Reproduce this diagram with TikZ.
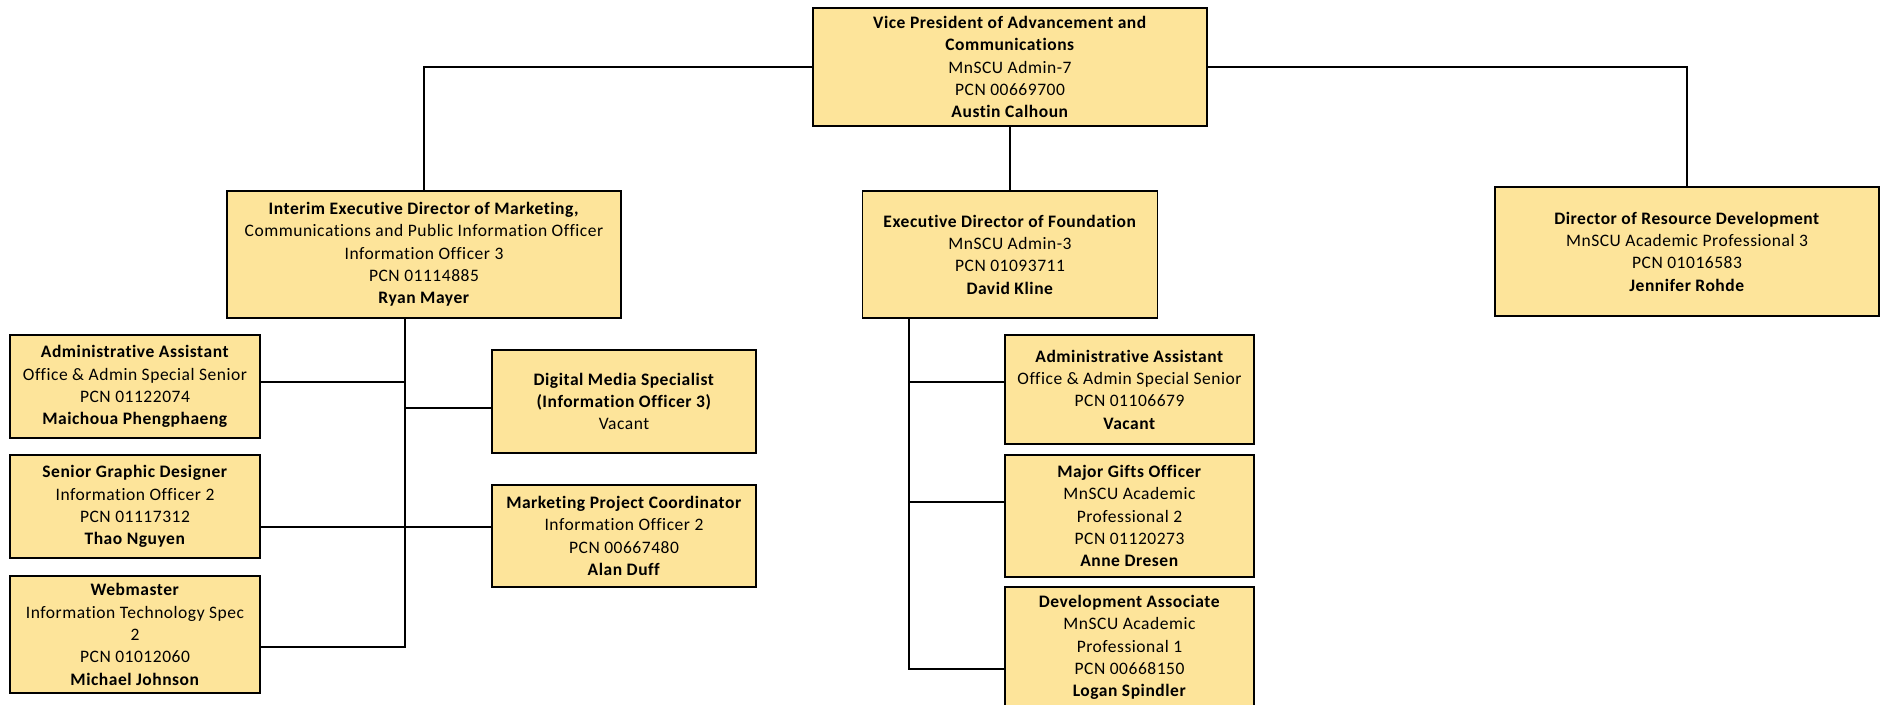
\documentclass[tikz,border=0pt]{standalone}
\usepackage{fontspec}
\setmainfont{Carlito}[LetterSpace=3.0, Ligatures=NoCommon]
\begin{document}
\begin{tikzpicture}[x=1pt,y=-1pt,
  box/.style={draw=black, line width=1.5pt, fill=boxfill, rectangle, inner sep=0pt,
    align=center, font=\fontsize{17.5}{22.3}\selectfont},
  link/.style={draw=black, line width=1.4pt}]
\definecolor{boxfill}{RGB}{253,228,154}
\useasboundingbox (0,0) rectangle (1887,704);
\clip (0,0) rectangle (1887,704);

% top level
\node[box, minimum width=394pt, minimum height=118pt] (vp) at (1010,67)
  {\textbf{Vice President of Advancement and}\\ \textbf{Communications}\\ MnSCU Admin-7\\ PCN 00669700\\ \textbf{Austin Calhoun}};

% second level
\node[box, minimum width=394pt, minimum height=127pt] (mkt) at (424,254.5)
  {\textbf{Interim Executive Director of Marketing,}\\ Communications and Public Information Officer\\ Information Officer 3\\ PCN 01114885\\ \textbf{Ryan Mayer}};
\node[box, minimum width=295pt, minimum height=127pt] (fnd) at (1010,254.5)
  {\textbf{Executive Director of Foundation}\\ MnSCU Admin-3\\ PCN 01093711\\ \textbf{David Kline}};
\node[box, minimum width=384pt, minimum height=129pt] (res) at (1687,251.5)
  {\textbf{Director of Resource Development}\\ MnSCU Academic Professional 3\\ PCN 01016583\\ \textbf{Jennifer Rohde}};

% marketing staff
\node[box, minimum width=250pt, minimum height=103pt] (aa1) at (135,386.5)
  {\textbf{Administrative Assistant}\\ Office \& Admin Special Senior\\ PCN 01122074\\ \textbf{Maichoua Phengphaeng}};
\node[box, minimum width=250pt, minimum height=103pt] (sgd) at (135,506.5)
  {\textbf{Senior Graphic Designer}\\ Information Officer 2\\ PCN 01117312\\ \textbf{Thao Nguyen}};
\node[box, minimum width=250pt, minimum height=117pt] (web) at (135,634.5)
  {\textbf{Webmaster}\\ Information Technology Spec\\ 2\\ PCN 01012060\\ \textbf{Michael Johnson}};
\node[box, minimum width=264pt, minimum height=103pt] (dms) at (624,401.5)
  {\textbf{Digital Media Specialist}\\ \textbf{(Information Officer 3)}\\ Vacant};
\node[box, minimum width=264pt, minimum height=102pt] (mpc) at (624,536)
  {\textbf{Marketing Project Coordinator}\\ Information Officer 2\\ PCN 00667480\\ \textbf{Alan Duff}};

% foundation staff
\node[box, minimum width=249pt, minimum height=109pt] (aa2) at (1129.5,389.5)
  {\textbf{Administrative Assistant}\\ Office \& Admin Special Senior\\ PCN 01106679\\ \textbf{Vacant}};
\node[box, minimum width=249pt, minimum height=122pt] (mgo) at (1129.5,516)
  {\textbf{Major Gifts Officer}\\ MnSCU Academic\\ Professional 2\\ PCN 01120273\\ \textbf{Anne Dresen}};
\node[box, minimum width=249pt, minimum height=121pt] (dev) at (1129.5,647.5)
  {\textbf{Development Associate}\\ MnSCU Academic\\ Professional 1\\ PCN 00668150\\ \textbf{Logan Spindler}};

% trunk points
\coordinate (mt0) at (405,318);
\coordinate (mt1) at (405,382);
\coordinate (mt2) at (405,408);
\coordinate (mt3) at (405,527);
\coordinate (mt4) at (405,647);
\coordinate (ft0) at (909,318);
\coordinate (ft1) at (909,382);
\coordinate (ft2) at (909,502);
\coordinate (ft3) at (909,669);

% connectors from the vice president
\draw[link] (vp.west) -| (mkt.north);
\draw[link] (vp.south) -- (vp.south |- fnd.north);
\draw[link] (vp.east) -| (res.north);

% marketing branch
\draw[link] (mt0) -- (mt4) -- (mt4 -| web.east);
\draw[link] (mt1) -- (mt1 -| aa1.east);
\draw[link] (mt2) -- (mt2 -| dms.west);
\draw[link] (mt3 -| sgd.east) -- (mt3 -| mpc.west);

% foundation branch
\draw[link] (ft0) -- (ft3) -- (ft3 -| dev.west);
\draw[link] (ft1) -- (ft1 -| aa2.west);
\draw[link] (ft2) -- (ft2 -| mgo.west);
\end{tikzpicture}
\end{document}
